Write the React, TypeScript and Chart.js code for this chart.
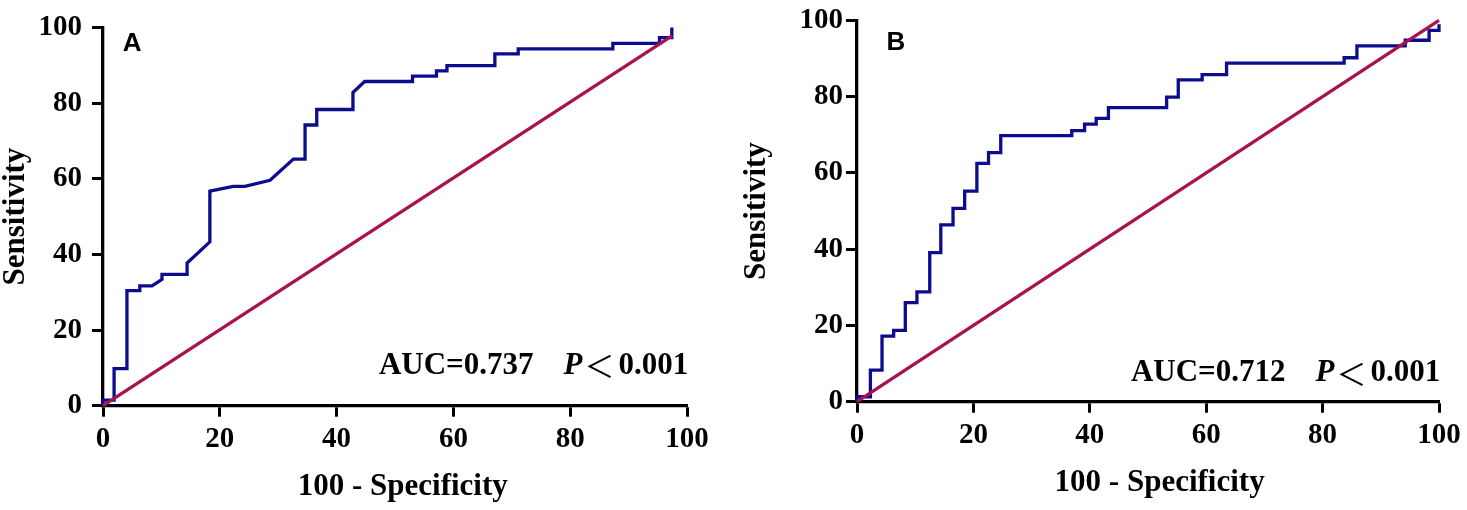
import React, { useEffect, useRef } from "react";
import { Chart, registerables } from "chart.js";

Chart.register(...registerables);

// ---------- data ----------
const panelLetters = ["A", "B"];
const aucTexts = ["AUC=0.737", "AUC=0.712"];
const pLetter = "P";
const pRelation = "＜";
const pValue = "0.001";
const xAxisTitle = "100 - Specificity";
const yAxisTitle = "Sensitivity";
const tickValues = [0, 20, 40, 60, 80, 100];

// ROC curve A (100 - specificity, sensitivity) vertices
const rocAX = [0, 0, 1.9, 1.9, 4.1, 4.1, 6.3, 6.3, 8.4, 10.1, 10.1, 14.4, 14.4, 18.3, 18.3, 22.3, 24.3, 28.6, 32.6, 34.6, 34.6, 36.6, 36.6, 42.8, 42.8, 44.8, 53.0, 53.0, 57.1, 57.1, 58.9, 58.9, 67.1, 67.1, 71.1, 71.1, 87.3, 87.3, 95.3, 95.3, 97.4, 97.4];
const rocAY = [0, 1.5, 1.5, 9.8, 9.8, 30.4, 30.4, 31.7, 31.7, 33.4, 34.7, 34.7, 37.7, 43.3, 56.7, 58.0, 58.0, 59.6, 65.2, 65.2, 74.2, 74.2, 78.3, 78.3, 82.8, 85.7, 85.7, 87.1, 87.1, 88.5, 88.5, 89.9, 89.9, 93.0, 93.0, 94.3, 94.3, 95.8, 95.8, 97.3, 97.3, 100];
const refAX = [0, 97.5];
const refAY = [0, 97.8];

// ROC curve B vertices
const rocBX = [0, 0, 2.3, 2.3, 4.3, 4.3, 6.3, 6.3, 8.3, 8.3, 10.3, 10.3, 12.5, 12.5, 14.4, 14.4, 16.5, 16.5, 18.5, 18.5, 20.6, 20.6, 22.6, 22.6, 24.7, 24.7, 36.9, 36.9, 39.1, 39.1, 41.1, 41.1, 43.2, 43.2, 53.2, 53.2, 55.2, 55.2, 59.3, 59.3, 63.5, 63.5, 83.7, 83.7, 85.9, 85.9, 94.2, 94.2, 98.3, 98.3, 100, 100];
const rocBY = [0, 1.3, 1.3, 8.3, 8.3, 17.2, 17.2, 18.7, 18.7, 26.0, 26.0, 28.8, 28.8, 39.1, 39.1, 46.4, 46.4, 50.7, 50.7, 55.2, 55.2, 62.5, 62.5, 65.3, 65.3, 69.8, 69.8, 71.1, 71.1, 72.8, 72.8, 74.3, 74.3, 77.1, 77.1, 79.9, 79.9, 84.4, 84.4, 85.8, 85.8, 88.8, 88.8, 90.2, 90.2, 93.3, 93.3, 94.8, 94.8, 97.4, 97.4, 99];
const refBX = [0, 100];
const refBY = [0, 100];

// ---------- styles / layout ----------
const BLUE = "#0c0c8e";
const RED = "#a8124f";
const SERIF = "'Liberation Serif', 'Times New Roman', serif";
const SANS = "'Liberation Sans', Arial, sans-serif";

type PanelCfg = {
  left: number;
  width: number;
  axisW: number;
  padRight: number;
  padTop: number;
  xAxisH: number;
  yTickPad: number;
  yTitlePad: number;
  xTitlePadBottom: number;
  xTitleLead: string;
  letterAt: [number, number];
  aucAt: [number, number];
};

const panels: PanelCfg[] = [
  {
    left: 0, width: 735, axisW: 103, padRight: 48, padTop: 19.5, xAxisH: 104.3,
    yTickPad: 10, yTitlePad: 0, xTitlePadBottom: 7, xTitleLead: "  ",
    letterAt: [5.0, 95.6], aucAt: [100.2, 10.5],
  },
  {
    left: 735, width: 732, axisW: 122, padRight: 28, padTop: 13.5, xAxisH: 108.3,
    yTickPad: 3, yTitlePad: 6, xTitlePadBottom: 11, xTitleLead: "   ",
    letterAt: [6.7, 94.0], aucAt: [100.2, 7.4],
  },
];

const rocData = [
  { rx: rocAX, ry: rocAY, dx: refAX, dy: refAY },
  { rx: rocBX, ry: rocBY, dx: refBX, dy: refBY },
];

const toPts = (xs: number[], ys: number[]) => xs.map((x, i) => ({ x, y: ys[i] }));

function makeTextPlugin(idx: number, p: PanelCfg) {
  return {
    id: "rocText" + idx,
    afterDatasetsDraw(chart: any) {
      const { ctx, scales } = chart;
      const xs = scales.x;
      const ys = scales.y;
      ctx.save();
      ctx.fillStyle = "#000";
      ctx.textBaseline = "middle";
      ctx.textAlign = "center";
      ctx.font = `bold 26px ${SANS}`;
      ctx.fillText(panelLetters[idx], xs.getPixelForValue(p.letterAt[0]), ys.getPixelForValue(p.letterAt[1]));

      const segs: { t?: string; f?: string; gap?: number }[] = [
        { t: aucTexts[idx], f: `bold 31px ${SERIF}` },
        { gap: 30 },
        { t: pLetter, f: `italic bold 31px ${SERIF}` },
        { gap: 2 },
        { t: pRelation, f: `30px 'Noto Sans CJK SC', sans-serif` },
        { gap: 4 },
        { t: pValue, f: `bold 31px ${SERIF}` },
      ];
      let total = 0;
      const widths = segs.map((s) => {
        if (s.gap !== undefined) return s.gap;
        ctx.font = s.f;
        return ctx.measureText(s.t).width;
      });
      widths.forEach((w) => (total += w));
      let cx = xs.getPixelForValue(p.aucAt[0]) - total;
      const cy = ys.getPixelForValue(p.aucAt[1]);
      ctx.textAlign = "left";
      segs.forEach((s, i) => {
        if (s.t) {
          ctx.font = s.f;
          ctx.fillText(s.t, cx, cy);
        }
        cx += widths[i];
      });
      ctx.restore();
    },
  };
}

function RocPanel({ idx }: { idx: number }) {
  const ref = useRef<HTMLCanvasElement | null>(null);
  const p = panels[idx];
  useEffect(() => {
    if (!ref.current) return;
    const d = rocData[idx];
    const tickFont = { family: SERIF, size: 29, weight: "bold" as const, lineHeight: 1.2 };
    const titleFont = { family: SERIF, size: 31, weight: "bold" as const, lineHeight: 1.05 };
    const chart = new Chart(ref.current, {
      type: "scatter",
      data: {
        datasets: [
          {
            data: toPts(d.dx, d.dy),
            showLine: true,
            borderColor: RED,
            borderWidth: 3.3,
            pointRadius: 0,
            clip: false as any,
          },
          {
            data: toPts(d.rx, d.ry),
            showLine: true,
            borderColor: BLUE,
            borderWidth: 3.3,
            borderJoinStyle: "miter",
            pointRadius: 0,
            clip: false as any,
          },
        ],
      },
      options: {
        responsive: false,
        animation: false,
        devicePixelRatio: 1,
        layout: { padding: { left: 0, right: p.padRight, top: p.padTop, bottom: 0 } },
        plugins: { legend: { display: false }, tooltip: { enabled: false } },
        scales: {
          x: {
            type: "linear",
            min: 0,
            max: 100,
            afterBuildTicks: (s: any) => {
              s.ticks = tickValues.map((v) => ({ value: v }));
            },
            ticks: { font: tickFont, color: "#000", padding: 5, maxRotation: 0, autoSkip: false },
            grid: { drawOnChartArea: false, drawTicks: true, tickLength: 11, tickWidth: 3, tickColor: "#000" },
            border: { display: true, color: "#000", width: 3.3 },
            title: {
              display: true,
              text: p.xTitleLead + xAxisTitle,
              font: titleFont,
              color: "#000",
              padding: { top: 0, bottom: p.xTitlePadBottom },
            },
            afterFit: (s: any) => {
              s.height = p.xAxisH;
            },
          },
          y: {
            type: "linear",
            min: 0,
            max: 100,
            afterBuildTicks: (s: any) => {
              s.ticks = tickValues.map((v) => ({ value: v }));
            },
            ticks: { font: tickFont, color: "#000", padding: p.yTickPad, autoSkip: false },
            grid: { drawOnChartArea: false, drawTicks: true, tickLength: 11, tickWidth: 3, tickColor: "#000" },
            border: { display: true, color: "#000", width: 3.3 },
            title: {
              display: true,
              text: yAxisTitle,
              font: titleFont,
              color: "#000",
              padding: { top: p.yTitlePad, bottom: 0 },
            },
            afterFit: (s: any) => {
              s.width = p.axisW;
            },
          },
        },
      } as any,
      plugins: [makeTextPlugin(idx, p)],
    });
    return () => chart.destroy();
  }, [idx]);
  return (
    <canvas
      ref={ref}
      width={p.width}
      height={510}
      style={{ position: "absolute", left: p.left, top: 0, display: "block" }}
    />
  );
}

export default function App() {
  return (
    <div style={{ position: "absolute", left: 0, top: 0, width: 1467, height: 510, background: "#fff" }}>
      <RocPanel idx={0} />
      <RocPanel idx={1} />
    </div>
  );
}
